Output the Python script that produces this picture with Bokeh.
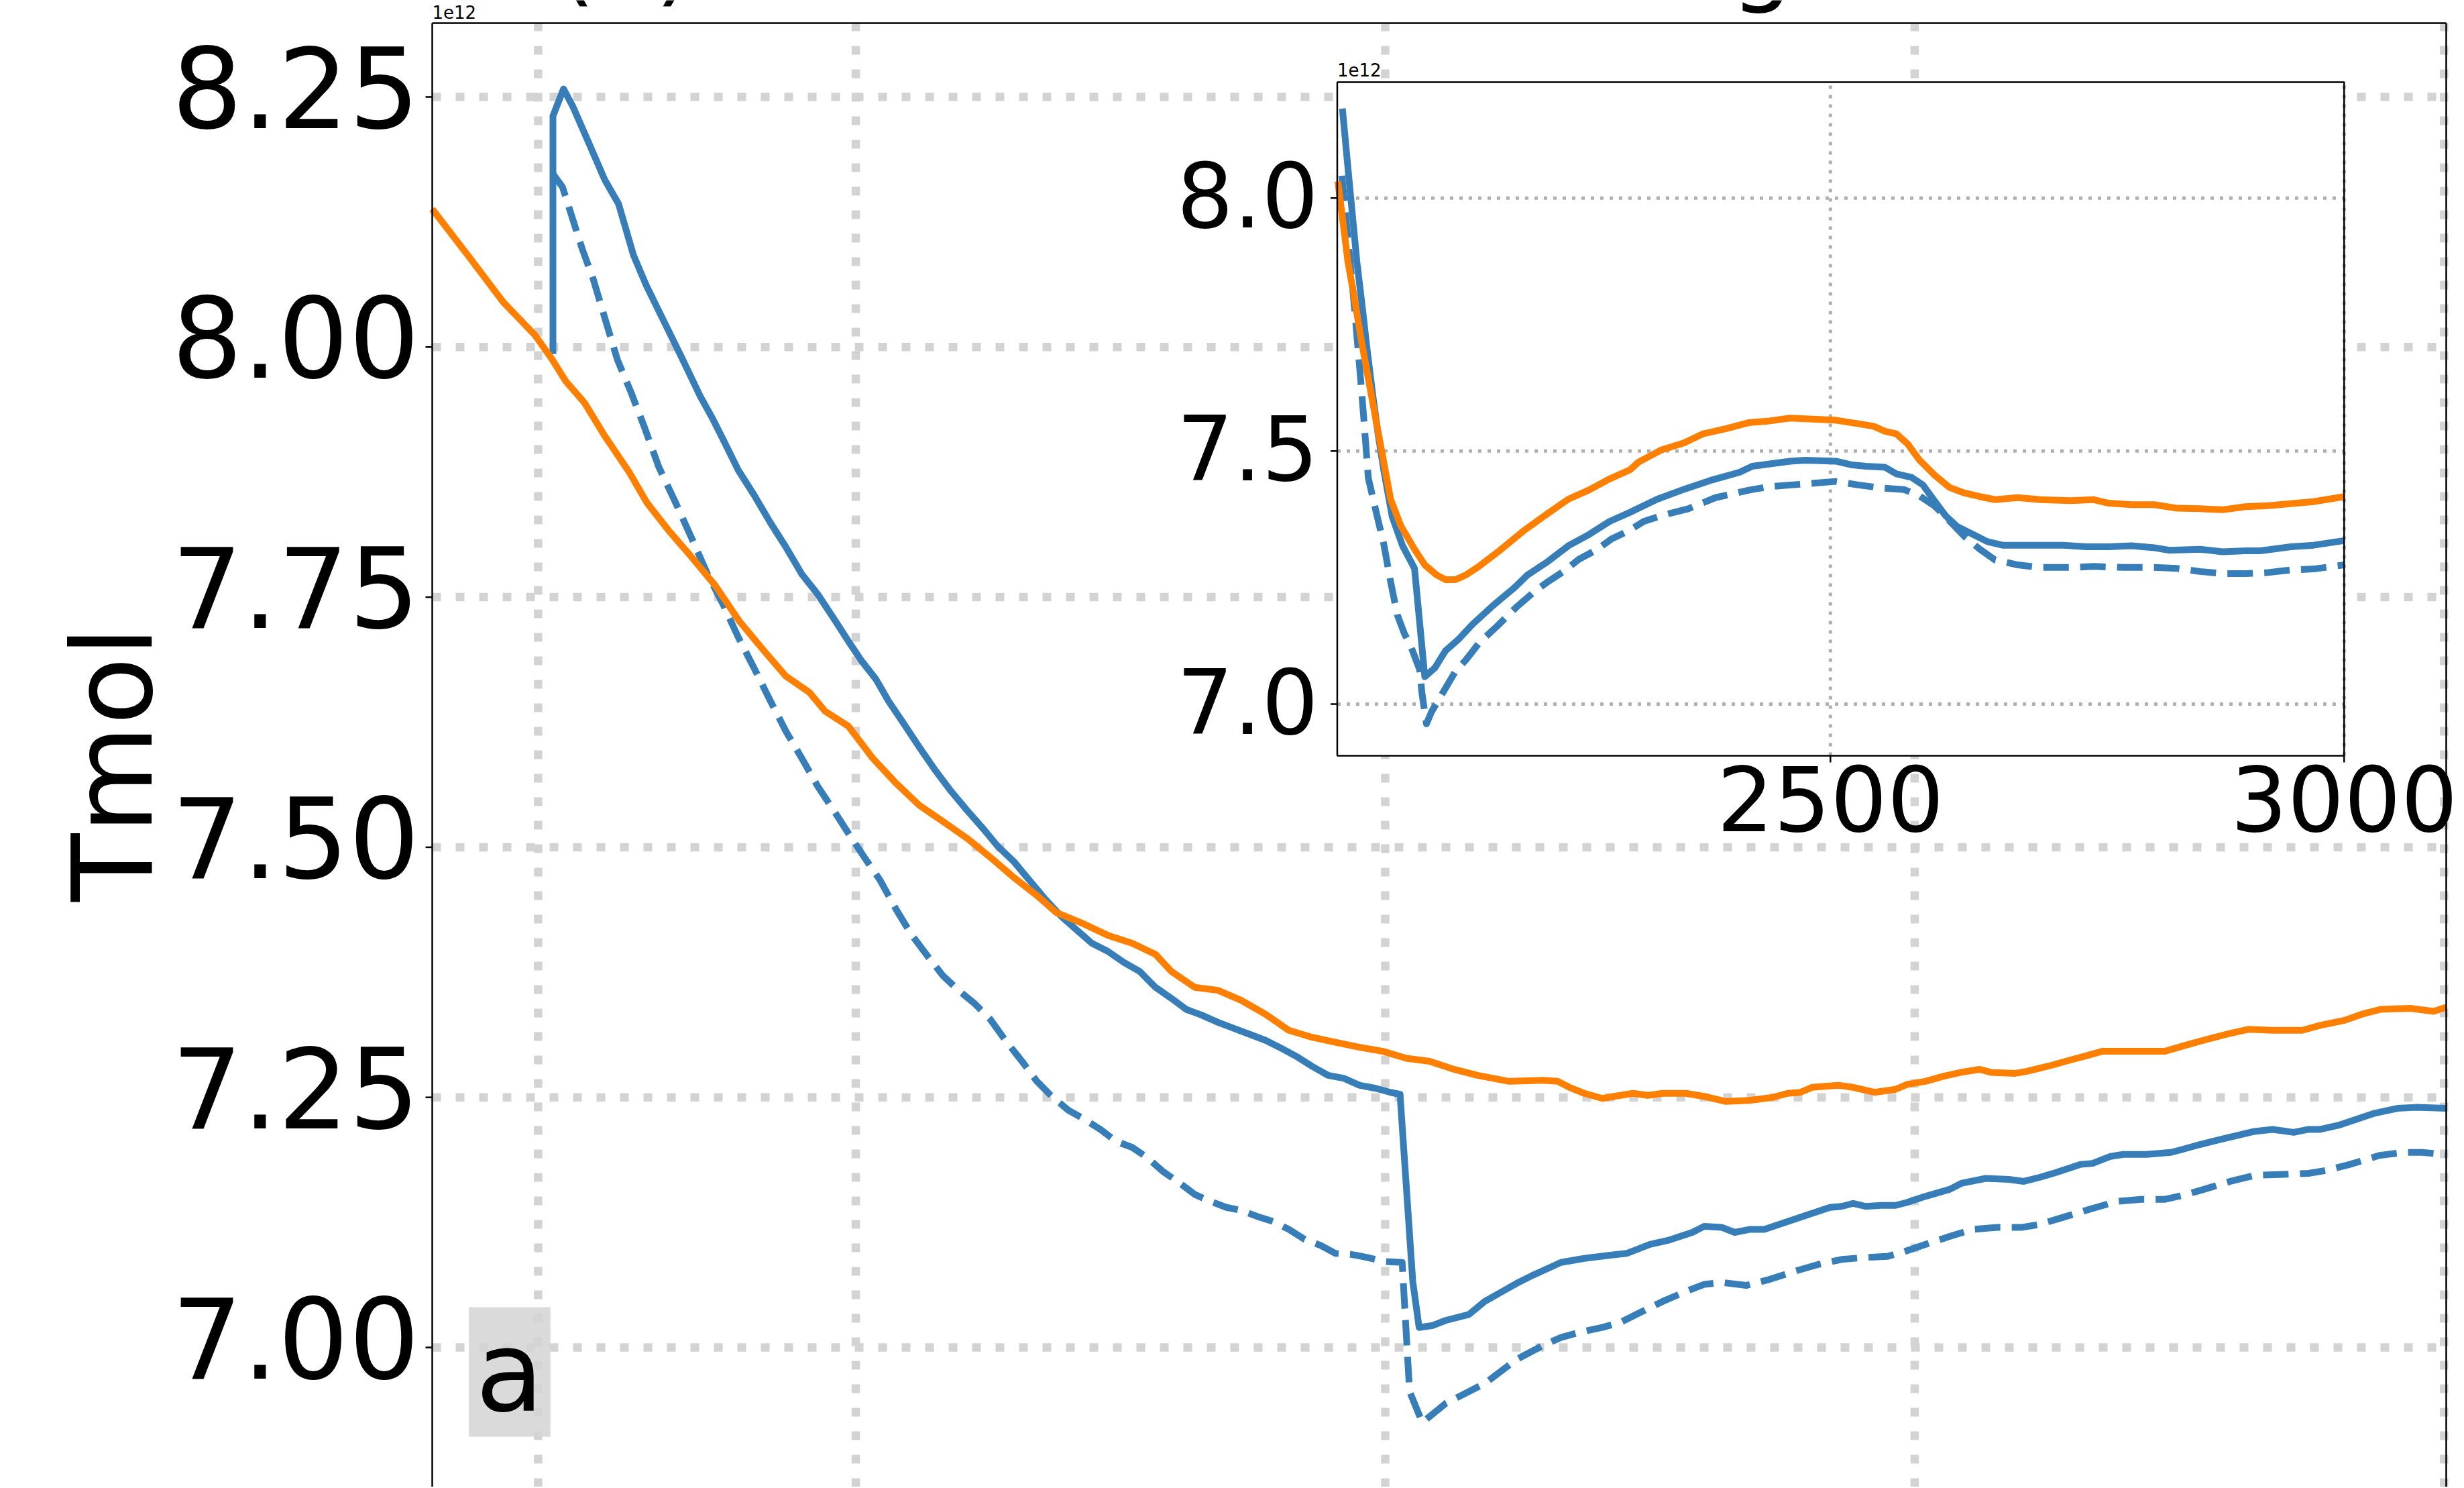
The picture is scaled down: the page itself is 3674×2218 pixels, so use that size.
import numpy as np
from bokeh.plotting import figure
from bokeh.models import Range1d, Label
from bokeh.embed import file_html
from bokeh.resources import INLINE

# ---------------- data (values in units of 1e12 Tmol) ----------------
main_orange_year = [2010.0, 2013.7, 2016.7, 2019.7, 2021.3, 2022.6, 2024.4, 2026.3, 2028.6, 2030.3,
                    2032.3, 2034.5, 2036.7, 2039.0, 2041.2, 2043.4, 2045.6, 2047.1, 2049.3, 2051.6,
                    2053.8, 2056.0, 2058.2, 2060.5, 2062.7, 2064.9, 2067.2, 2068.9, 2071.6, 2073.8,
                    2076.1, 2078.3, 2079.8, 2082.0, 2084.2, 2086.4, 2088.7, 2090.9, 2093.1, 2095.3,
                    2097.6, 2099.8, 2102.0, 2104.2, 2106.5, 2108.7, 2111.7,
                    2114.9, 2116.3, 2117.4, 2118.8, 2120.5, 2122.2, 2123.4, 2124.8, 2126.2, 2128.4,
                    2130.1, 2132.1, 2134.4, 2136.6, 2138.0, 2139.2, 2140.3, 2142.8, 2144.2, 2146.2,
                    2148.2, 2149.3, 2151.0, 2152.7, 2154.4, 2156.1, 2157.2, 2159.5, 2160.6, 2162.9,
                    2164.6, 2166.0, 2167.7, 2169.7, 2171.4, 2173.6, 2175.9, 2177.6, 2179.8, 2181.5,
                    2183.8, 2186.6, 2188.3, 2190.6, 2192.2, 2194.0, 2196.8, 2199.0, 2200.2]
main_orange_val = [8.138, 8.087, 8.045, 8.012, 7.988, 7.966, 7.944, 7.911, 7.875, 7.844,
                   7.817, 7.790, 7.762, 7.726, 7.698, 7.671, 7.655, 7.636, 7.621, 7.589,
                   7.564, 7.542, 7.526, 7.509, 7.490, 7.470, 7.451, 7.435, 7.423, 7.412,
                   7.404, 7.393, 7.376, 7.360, 7.357, 7.347, 7.333, 7.317, 7.310, 7.305,
                   7.300, 7.296, 7.289, 7.286, 7.278, 7.272, 7.266,
                   7.267, 7.266, 7.260, 7.254, 7.249, 7.252, 7.254, 7.252, 7.254, 7.254,
                   7.251, 7.246, 7.247, 7.250, 7.254, 7.255, 7.260, 7.262, 7.260, 7.255,
                   7.258, 7.263, 7.266, 7.271, 7.275, 7.278, 7.275, 7.274, 7.276, 7.282,
                   7.287, 7.291, 7.296, 7.296, 7.296, 7.296, 7.303, 7.308, 7.314, 7.318,
                   7.317, 7.317, 7.322, 7.327, 7.333, 7.338, 7.339, 7.336, 7.340]

main_blue_year = [2021.4, 2021.4, 2022.4, 2023.3, 2024.7, 2026.3, 2027.6, 2029.0, 2030.2, 2031.4,
                  2033.4, 2035.3, 2036.5, 2037.5, 2038.9, 2040.4, 2041.9, 2043.4, 2044.9, 2046.4,
                  2047.9, 2049.3, 2050.5, 2051.9, 2053.1, 2054.5, 2056.0, 2057.5, 2059.0, 2060.5,
                  2062.0, 2063.4, 2064.9, 2066.4, 2067.9, 2069.4, 2070.9, 2072.3, 2073.8, 2075.3,
                  2076.8, 2078.3, 2079.8, 2081.2, 2082.7, 2084.2, 2085.7, 2087.2, 2088.7, 2090.2,
                  2091.6, 2093.1, 2094.6, 2096.1, 2097.6, 2099.1, 2100.5, 2101.4, 2102.6, 2103.2,
                  2104.5, 2105.7, 2107.9, 2109.4, 2110.9, 2112.4, 2113.9,
                  2116.6, 2118.8, 2121.1, 2122.8, 2125.0, 2126.7, 2129.0, 2130.1, 2131.8, 2133.0,
                  2134.4, 2135.8, 2137.5, 2140.0, 2142.0, 2143.1, 2144.2, 2145.4, 2146.8, 2148.2,
                  2149.3, 2151.0, 2153.3, 2154.4, 2156.7, 2158.9, 2160.3, 2161.8, 2163.4, 2165.7,
                  2166.8, 2168.5, 2169.7, 2171.9, 2174.2, 2175.3, 2177.0, 2179.3, 2182.1, 2183.8,
                  2185.8, 2187.2, 2188.3, 2190.0, 2191.7, 2193.4, 2195.6, 2197.3, 2200.2]
main_blue_val = [7.993, 8.231, 8.258, 8.240, 8.206, 8.167, 8.143, 8.092, 8.062, 8.036,
                 7.993, 7.951, 7.928, 7.907, 7.877, 7.852, 7.825, 7.800, 7.773, 7.753,
                 7.729, 7.706, 7.687, 7.668, 7.646, 7.624, 7.600, 7.577, 7.556, 7.537,
                 7.519, 7.501, 7.486, 7.467, 7.448, 7.431, 7.417, 7.404, 7.396, 7.385,
                 7.376, 7.360, 7.349, 7.338, 7.332, 7.325, 7.319, 7.313, 7.307, 7.299,
                 7.291, 7.281, 7.272, 7.269, 7.262, 7.259, 7.255, 7.253, 7.066, 7.020,
                 7.022, 7.027, 7.033, 7.046, 7.055, 7.064, 7.072,
                 7.085, 7.089, 7.092, 7.094, 7.103, 7.107, 7.115, 7.121, 7.120, 7.115,
                 7.118, 7.118, 7.124, 7.133, 7.140, 7.141, 7.144, 7.141, 7.142, 7.142,
                 7.145, 7.151, 7.158, 7.164, 7.169, 7.168, 7.166, 7.170, 7.175, 7.183,
                 7.184, 7.191, 7.193, 7.193, 7.195, 7.198, 7.203, 7.209, 7.216, 7.218,
                 7.215, 7.218, 7.218, 7.222, 7.228, 7.234, 7.239, 7.240, 7.239]

main_bdash_year = [2021.4, 2022.3, 2022.9, 2024.2, 2025.2, 2026.3, 2027.5, 2028.8, 2030.0, 2031.4,
                   2033.0, 2034.5, 2036.0, 2037.5, 2038.9, 2040.4, 2041.9, 2043.4, 2044.9, 2046.4,
                   2047.9, 2049.3, 2050.8, 2052.3, 2053.8, 2055.3, 2056.8, 2058.2, 2059.7, 2061.2,
                   2062.7, 2064.2, 2065.7, 2067.1, 2068.6, 2070.1, 2071.6, 2073.1, 2074.6, 2076.1,
                   2077.5, 2079.0, 2080.5, 2082.0, 2083.5, 2085.0, 2086.4, 2087.9, 2089.4, 2090.9,
                   2092.4, 2093.9, 2095.3, 2096.8, 2098.3, 2099.8, 2101.6, 2102.3, 2103.5, 2105.7,
                   2109.4, 2112.4,
                   2114.9, 2116.6, 2118.3, 2120.5, 2122.2, 2123.9, 2126.2, 2128.4, 2130.1, 2131.8,
                   2134.1, 2136.3, 2138.6, 2140.9, 2143.1, 2145.4, 2147.4, 2148.8, 2151.0, 2153.3,
                   2155.5, 2157.8, 2160.1, 2161.8, 2164.0, 2166.8, 2169.1, 2171.4, 2173.6, 2175.3,
                   2177.0, 2179.8, 2182.1, 2184.9, 2187.2, 2188.9, 2191.1, 2193.9, 2196.2, 2197.9,
                   2200.2]
main_bdash_val = [8.173, 8.160, 8.140, 8.097, 8.068, 8.029, 7.987, 7.954, 7.921, 7.880,
                  7.844, 7.809, 7.773, 7.742, 7.710, 7.679, 7.647, 7.616, 7.589, 7.561,
                  7.537, 7.514, 7.490, 7.467, 7.438, 7.412, 7.391, 7.372, 7.357, 7.344,
                  7.328, 7.306, 7.286, 7.266, 7.250, 7.237, 7.228, 7.218, 7.206, 7.200,
                  7.190, 7.176, 7.165, 7.153, 7.146, 7.140, 7.137, 7.131, 7.126, 7.118,
                  7.108, 7.102, 7.094, 7.093, 7.090, 7.086, 7.085, 6.956, 6.925, 6.944,
                  6.964, 6.988,
                  7.002, 7.010, 7.015, 7.020, 7.025, 7.034, 7.046, 7.056, 7.063, 7.065,
                  7.062, 7.068, 7.076, 7.083, 7.088, 7.090, 7.091, 7.095, 7.103, 7.111,
                  7.118, 7.120, 7.120, 7.123, 7.130, 7.139, 7.146, 7.148, 7.148, 7.152,
                  7.157, 7.166, 7.172, 7.173, 7.174, 7.177, 7.183, 7.192, 7.195, 7.195,
                  7.193]

inset_orange_year = [2020.6, 2030.4, 2036.2, 2043.6, 2050.9, 2058.3, 2065.7, 2071.9, 2081.9, 2095.2,
                     2105.2, 2116.8, 2125.2, 2135.1, 2145.1, 2158.5, 2178.4, 2201.7, 2225.1, 2245.0,
                     2265.0, 2285.0, 2305.0, 2313.1, 2335.2, 2357.4, 2375.9, 2398.0, 2420.2, 2438.6,
                     2460.8, 2482.9, 2505.1, 2527.2, 2542.0, 2553.1, 2564.2, 2575.2, 2586.3, 2601.1,
                     2615.9, 2630.6, 2645.4, 2660.2, 2682.3, 2704.5, 2734.0, 2756.2, 2770.9, 2793.1,
                     2815.2, 2837.4, 2859.6, 2881.7, 2903.9, 2926.0, 2948.2, 2970.3, 3000.0]
inset_orange_val = [8.033, 7.874, 7.808, 7.717, 7.636, 7.554, 7.473, 7.405, 7.352, 7.306,
                    7.275, 7.255, 7.246, 7.246, 7.255, 7.273, 7.304, 7.343, 7.377, 7.405,
                    7.423, 7.445, 7.463, 7.478, 7.502, 7.516, 7.534, 7.544, 7.556, 7.559,
                    7.565, 7.563, 7.561, 7.554, 7.549, 7.539, 7.534, 7.514, 7.483, 7.453,
                    7.428, 7.417, 7.410, 7.404, 7.408, 7.404, 7.402, 7.404, 7.397, 7.394,
                    7.394, 7.387, 7.386, 7.384, 7.390, 7.392, 7.396, 7.400, 7.410]

inset_blue_year = [2025.0, 2032.0, 2039.1, 2043.6, 2048.7, 2054.6, 2060.0, 2065.2, 2073.5, 2083.5,
                   2095.2, 2105.2, 2115.2, 2125.2, 2138.5, 2151.8, 2171.8, 2191.8, 2205.1, 2225.1,
                   2245.0, 2265.0, 2285.0, 2305.0, 2331.6, 2358.3, 2384.9, 2411.5, 2423.9, 2460.8,
                   2475.6, 2505.1, 2519.9, 2534.6, 2553.1, 2564.2, 2579.0, 2590.0, 2601.1, 2612.2,
                   2623.2, 2638.0, 2652.8, 2667.5, 2689.7, 2726.6, 2748.8, 2770.9, 2793.1, 2815.2,
                   2830.0, 2859.6, 2881.7, 2903.9, 2918.6, 2948.2, 2970.3, 3000.0]
inset_blue_val = [8.177, 8.025, 7.874, 7.798, 7.707, 7.610, 7.530, 7.463, 7.370, 7.313,
                  7.268, 7.054, 7.072, 7.105, 7.129, 7.158, 7.195, 7.229, 7.255, 7.282,
                  7.313, 7.335, 7.361, 7.379, 7.405, 7.425, 7.443, 7.458, 7.470, 7.480,
                  7.482, 7.480, 7.473, 7.470, 7.468, 7.455, 7.448, 7.433, 7.402, 7.372,
                  7.351, 7.336, 7.321, 7.314, 7.314, 7.314, 7.311, 7.311, 7.313, 7.309,
                  7.304, 7.306, 7.301, 7.303, 7.303, 7.311, 7.314, 7.323]

inset_bdash_year = [2024.5, 2030.4, 2036.0, 2042.0, 2046.0, 2050.2, 2058.5, 2065.2, 2071.9, 2078.5,
                    2085.2, 2091.8, 2095.2, 2100.2, 2102.5, 2106.8, 2111.8, 2123.5, 2135.1, 2145.1,
                    2158.5, 2175.1, 2195.1, 2211.7, 2225.1, 2241.7, 2255.0, 2271.7, 2286.7, 2305.0,
                    2318.3, 2338.3, 2361.6, 2388.2, 2421.5, 2441.5, 2468.2, 2505.1, 2527.2, 2549.4,
                    2571.5, 2586.3, 2601.1, 2615.9, 2630.6, 2645.4, 2660.2, 2682.3, 2704.5, 2734.0,
                    2756.2, 2785.7, 2815.2, 2837.4, 2859.6, 2881.7, 2903.9, 2926.0, 2948.2, 2970.3,
                    3000.0]
inset_bdash_val = [8.044, 7.918, 7.800, 7.660, 7.560, 7.447, 7.374, 7.317, 7.242, 7.176,
                   7.140, 7.113, 7.095, 7.068, 7.021, 6.961, 6.985, 7.025, 7.065, 7.087,
                   7.122, 7.153, 7.193, 7.222, 7.242, 7.264, 7.286, 7.304, 7.326, 7.344,
                   7.361, 7.374, 7.386, 7.408, 7.423, 7.430, 7.434, 7.440, 7.433, 7.427,
                   7.424, 7.412, 7.392, 7.362, 7.331, 7.306, 7.285, 7.275, 7.270, 7.270,
                   7.272, 7.270, 7.270, 7.268, 7.262, 7.258, 7.258, 7.260, 7.265, 7.267,
                   7.275]

main_yticks = [7.00, 7.25, 7.50, 7.75, 8.00, 8.25]
main_ytick_labels = ["7.00", "7.25", "7.50", "7.75", "8.00", "8.25"]
main_xticks = [2020, 2050, 2100, 2150, 2200]
inset_xticks = [2500, 3000]
inset_xtick_labels = ["2500", "3000"]
inset_yticks = [7.0, 7.5, 8.0]
inset_ytick_labels = ["7.0", "7.5", "8.0"]
title_text = "(a) Global surface mixing ratio of CH\u2084"
y_label = "Tmol"
offset_text = "1e12"
panel_letter = "a"

# ---------------- style ----------------
FONT = "DejaVu Sans"
BLUE = "#377eb8"
ORANGE = "#ff7f00"
GRID_MAIN = "#d3d3d3"
GRID_INSET = "#b0b0b0"
LW = 10
SPINE = 2.5

# canvas-wide data window; the main axes box spans 2010..2200.2 x (bottom..8.3238)
x_view = Range1d(1969.211, 2201.784)
y_view = Range1d(6.86052, 8.34657)
ax_left, ax_right = 2010.0, 2200.2
ax_bottom, ax_top = y_view.start, 8.32377

p = figure(width=3672, height=2216, x_range=x_view, y_range=y_view,
           output_backend="svg", toolbar_location=None, x_axis_location=None, y_axis_location=None,
           title=None, min_border=0)
p.outline_line_color = None
p.background_fill_color = "white"
p.border_fill_color = "white"
p.xgrid.visible = False
p.ygrid.visible = False

# main grid (dotted, light grey)
nmx, nmy = len(main_xticks), len(main_yticks)
p.segment(x0=main_xticks, x1=main_xticks, y0=[ax_bottom] * nmx, y1=[ax_top] * nmx,
          line_color=GRID_MAIN, line_width=12.5, line_dash="13 22")
p.segment(x0=[ax_left] * nmy, x1=[ax_right] * nmy, y0=main_yticks, y1=main_yticks,
          line_color=GRID_MAIN, line_width=12.5, line_dash="13 22")

# main curves
p.line(main_blue_year, main_blue_val, line_color=BLUE, line_width=LW, line_join="round")
p.line(main_bdash_year, main_bdash_val, line_color=BLUE, line_width=LW, line_dash="38 17", line_join="round")
p.line(main_orange_year, main_orange_val, line_color=ORANGE, line_width=LW, line_join="round")

# main spines and ticks
p.segment(x0=[ax_left, ax_left, ax_right], x1=[ax_left, ax_right, ax_right],
          y0=[ax_bottom, ax_top, ax_bottom], y1=[ax_top, ax_top, ax_top],
          line_color="black", line_width=SPINE)
p.ray(x=[ax_left] * nmy, y=main_yticks, length=10, length_units="screen", angle=np.pi,
      line_color="black", line_width=SPINE)
for t, s in zip(main_yticks, main_ytick_labels):
    p.add_layout(Label(x=ax_left, y=t, text=s, x_offset=-19, y_offset=15,
                       text_align="right", text_baseline="middle", text_font=FONT,
                       text_font_size="166px", text_color="black"))

# ---------------- inset ----------------
ix_src = Range1d(2020, 3000)
iy_src = Range1d(6.898, 8.229)
ix_tgt = Range1d(2095.47, 2190.56)
iy_tgt = Range1d(7.5915, 8.2648)
ins = p.subplot(x_source=ix_src, y_source=iy_src, x_target=ix_tgt, y_target=iy_tgt)

bg = ins.quad(left=[ix_src.start], right=[ix_src.end], bottom=[iy_src.start], top=[iy_src.end],
              fill_color="white", line_color=None)
cm = bg.coordinates

nx, ny = len(inset_xticks), len(inset_yticks)
ins.segment(x0=inset_xticks, x1=inset_xticks, y0=[iy_src.start] * nx, y1=[iy_src.end] * nx,
            line_color=GRID_INSET, line_width=5, line_dash="5 9")
ins.segment(x0=[ix_src.start] * ny, x1=[ix_src.end] * ny, y0=inset_yticks, y1=inset_yticks,
            line_color=GRID_INSET, line_width=5, line_dash="5 9")

ins.line(inset_blue_year, inset_blue_val, line_color=BLUE, line_width=LW, line_join="round")
ins.line(inset_bdash_year, inset_bdash_val, line_color=BLUE, line_width=LW, line_dash="38 17", line_join="round")
ins.line(inset_orange_year, inset_orange_val, line_color=ORANGE, line_width=LW, line_join="round")

ins.quad(left=[ix_src.start], right=[ix_src.end], bottom=[iy_src.start], top=[iy_src.end],
         fill_color=None, line_color="black", line_width=SPINE)
ins.ray(x=[ix_src.start] * ny, y=inset_yticks, length=10, length_units="screen", angle=np.pi,
        line_color="black", line_width=SPINE)
ins.ray(x=inset_xticks, y=[iy_src.start] * nx, length=10, length_units="screen", angle=-np.pi / 2,
        line_color="black", line_width=SPINE)

for t, s in zip(inset_yticks, inset_ytick_labels):
    p.add_layout(Label(x=ix_src.start, y=t, text=s, coordinates=cm, x_offset=-28, y_offset=5,
                       text_align="right", text_baseline="middle", text_font=FONT,
                       text_font_size="133px", text_color="black"))
for t, s in zip(inset_xticks, inset_xtick_labels):
    p.add_layout(Label(x=t, y=iy_src.start, text=s, coordinates=cm, y_offset=-64,
                       text_align="center", text_baseline="middle", text_font=FONT,
                       text_font_size="133px", text_color="black"))
p.add_layout(Label(x=ix_src.start, y=iy_src.end, text=offset_text, coordinates=cm, y_offset=18,
                   text_align="left", text_baseline="middle", text_font=FONT,
                   text_font_size="26px", text_color="black"))

# ---------------- annotations ----------------
p.add_layout(Label(x=ax_left, y=ax_top, text=offset_text, y_offset=16,
                   text_align="left", text_baseline="middle", text_font=FONT,
                   text_font_size="26px", text_color="black"))
p.add_layout(Label(x=ax_left, y=ax_top, text=title_text, x_offset=186, y_offset=95,
                   text_align="left", text_baseline="middle", text_font=FONT,
                   text_font_size="146px", text_color="black"))
p.add_layout(Label(x=ax_left, y=7.5834, text=y_label, x_offset=-476, angle=np.pi / 2,
                   text_align="center", text_baseline="middle", text_font=FONT,
                   text_font_size="166px", text_color="black"))
p.add_layout(Label(x=2017.31, y=6.9755, text=panel_letter, text_align="center", text_baseline="middle",
                   text_font=FONT, text_font_size="166px", text_color="black", text_line_height=1.0,
                   background_fill_color="#d3d3d3", background_fill_alpha=0.85, padding=dict(x=10, y=0)))

open("out.html", "w").write(file_html(p, INLINE))
